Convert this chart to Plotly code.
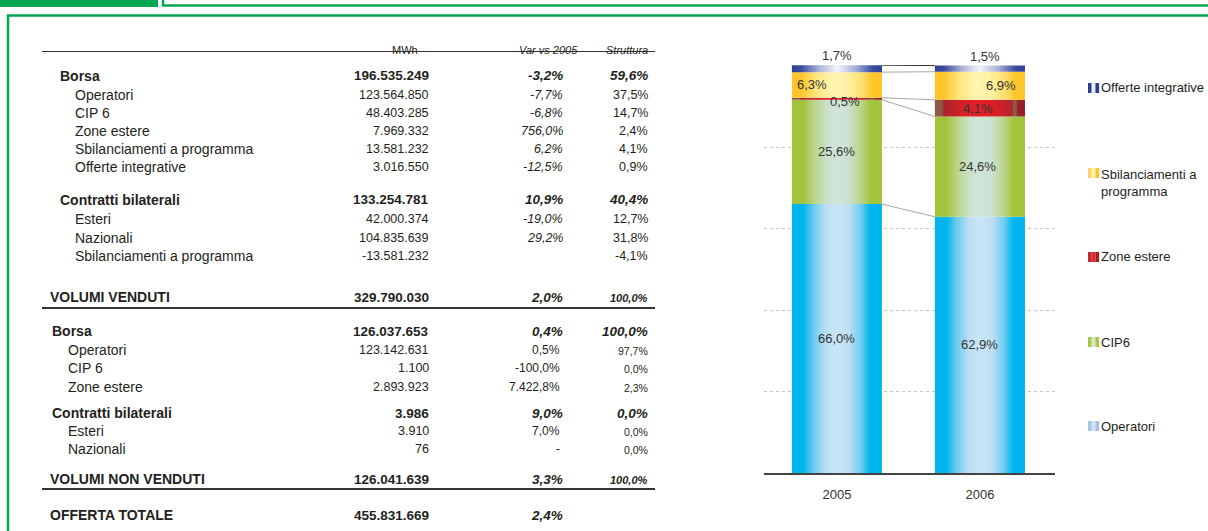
import plotly.graph_objects as go

W, H = 1208, 531

# ---- chart data (shares of sold volumes, %)
years = ["2005", "2006"]
series = ["Operatori", "CIP6", "Zone estere", "Sbilanciamenti a programma", "Offerte integrative"]
share_2005 = [66.0, 25.6, 0.5, 6.3, 1.7]
share_2006 = [62.9, 24.6, 4.1, 6.9, 1.5]

# ---- table data
header = ["MWh", "Var vs 2005", "Struttura"]
row_labels = ["Borsa", "Operatori", "CIP 6", "Zone estere", "Sbilanciamenti a programma",
              "Offerte integrative", "Contratti bilaterali", "Esteri", "Nazionali",
              "Sbilanciamenti a programma", "VOLUMI VENDUTI", "Borsa", "Operatori", "CIP 6",
              "Zone estere", "Contratti bilaterali", "Esteri", "Nazionali",
              "VOLUMI NON VENDUTI", "OFFERTA TOTALE"]
row_mwh = ["196.535.249", "123.564.850", "48.403.285", "7.969.332", "13.581.232", "3.016.550",
           "133.254.781", "42.000.374", "104.835.639", "-13.581.232", "329.790.030",
           "126.037.653", "123.142.631", "1.100", "2.893.923", "3.986", "3.910", "76",
           "126.041.639", "455.831.669"]
row_var = ["-3,2%", "-7,7%", "-6,8%", "756,0%", "6,2%", "-12,5%", "10,9%", "-19,0%", "29,2%", "",
           "2,0%", "0,4%", "0,5%", "-100,0%", "7.422,8%", "9,0%", "7,0%", "-", "3,3%", "2,4%"]
row_struttura = ["59,6%", "37,5%", "14,7%", "2,4%", "4,1%", "0,9%", "40,4%", "12,7%", "31,8%",
                 "-4,1%", "100,0%", "100,0%", "97,7%", "0,0%", "2,3%", "0,0%", "0,0%", "0,0%",
                 "100,0%", ""]

# ---- table layout / style (kept apart from the values)
row_kind = ["group", "item", "item", "item", "item", "item", "group", "item", "item", "item",
            "total", "group2", "item2", "item2", "item2", "group2", "item2", "item2",
            "total", "total"]
row_y = [76, 95, 113, 131, 149, 167, 200, 219, 238, 256, 297, 331, 350, 368, 387, 413, 431, 449,
         479, 515]

FONT = "Liberation Sans, Arial, sans-serif"
GREEN = "#00a651"
INK = "#231f20"


def px(x):
    return x / W


def py(y):
    return 1 - y / H


fig = go.Figure()

######
# stacked bars, drawn as gradient-filled polygons
######
gradients = {
    "Operatori": [[0, "#00b5ee"], [0.13, "#00b5ee"], [0.24, "#6ccbf1"], [0.38, "#bcdff3"],
                  [0.5, "#c9e5f5"], [0.64, "#bcdff3"], [0.77, "#6ccbf1"], [0.87, "#00b5ee"],
                  [1, "#00b5ee"]],
    "CIP6": [[0, "#a3c33b"], [0.12, "#a3c33b"], [0.26, "#bcd68e"], [0.4, "#cbe2d2"],
             [0.5, "#cfe4d8"], [0.62, "#cbe2d2"], [0.76, "#bcd68e"], [0.88, "#a3c33b"],
             [1, "#a3c33b"]],
    "Zone estere": [[0, "#8e5846"], [0.08, "#8e5846"], [0.1, "#a8252b"], [0.3, "#d42026"],
                    [0.5, "#e52025"], [0.7, "#d42026"], [0.86, "#b0262b"], [0.87, "#8e5846"],
                    [0.9, "#8e5846"], [0.92, "#9c2127"], [1, "#8f1f25"]],
    "Sbilanciamenti a programma": [[0, "#fdc52a"], [0.1, "#fdc52a"], [0.28, "#fee784"],
                                   [0.45, "#fff5b0"], [0.6, "#fff2a6"], [0.78, "#fedf70"],
                                   [0.9, "#fdc52a"], [1, "#fdc52a"]],
    "Offerte integrative": [[0, "#2e3f96"], [0.1, "#3a4b9d"], [0.3, "#a9b2d8"], [0.5, "#f3f3f9"],
                            [0.7, "#a9b2d8"], [0.9, "#3a4b9d"], [1, "#2e3f96"]],
}

bar_w = 0.63
shares = [share_2005, share_2006]
tops = []
for xi, sh in enumerate(shares):
    cum = []
    base = 0.0
    for si, name in enumerate(series):
        top = base + sh[si]
        x0, x1 = xi - bar_w / 2, xi + bar_w / 2
        fig.add_trace(go.Scatter(
            x=[x0, x1, x1, x0, x0], y=[base, base, top, top, base],
            mode="lines", fill="toself", line=dict(width=0),
            fillgradient=dict(type="horizontal", colorscale=gradients[name]),
            showlegend=False, hoverinfo="skip"))
        cum.append((base, top))
        base = top
    tops.append(cum)

# series lines between the two bars
for si in range(len(series)):
    fig.add_trace(go.Scatter(
        x=[bar_w / 2, 1 - bar_w / 2], y=[tops[0][si][1], tops[1][si][1]],
        mode="lines", line=dict(color="#333333" if si == len(series) - 1 else "#a6a6a6", width=1),
        showlegend=False, hoverinfo="skip"))

# data labels
label_dx = [[0, 0, 8, -25, 0], [0, -2, -2, 21, 5]]
label_dy = [[0, 0, -3, 0, 0], [0, 0, 0, 0, 0]]
for xi, sh in enumerate(shares):
    for si, v in enumerate(sh):
        base, top = tops[xi][si]
        txt = f"{v:.1f}".replace(".", ",") + "%"
        above = si == len(series) - 1
        fig.add_annotation(
            x=xi, y=top if above else (base + top) / 2, xref="x", yref="y",
            text=txt, showarrow=False,
            yanchor="bottom" if above else "middle",
            xshift=label_dx[xi][si], yshift=(0 if above else label_dy[xi][si]),
            font=dict(family=FONT, size=13, color="#333333"))

fig.update_xaxes(domain=[px(764), px(1055)], range=[-0.51, 1.525],
                 tickvals=[0, 1], ticktext=years, showgrid=False, zeroline=False,
                 showline=True, linecolor="#444444", linewidth=1.5,
                 ticks="", ticklabelstandoff=9,
                 tickfont=dict(family=FONT, size=13, color="#333333"))
fig.update_yaxes(domain=[py(473), py(65)], range=[0, 100.15], tickvals=[20, 40, 60, 80, 100],
                 showticklabels=False, showgrid=True, gridcolor="#c4c4c4",
                 griddash="dot", gridwidth=1, zeroline=False)

######
# legend (spread out vertically, as in the reference)
######
legend_order = ["Offerte integrative", "Sbilanciamenti a programma", "Zone estere", "CIP6", "Operatori"]
legend_text = ["Offerte integrative", "Sbilanciamenti a<br>programma", "Zone estere", "CIP6", "Operatori"]
legend_y = [88, 173, 257, 342, 426]
legend_swatch = {
    "Offerte integrative": ["#2b3d91", "#e9ecf7", "#2b3d91"],
    "Sbilanciamenti a programma": ["#fdd36a", "#fff2a8", "#fcc230"],
    "Zone estere": ["#c0272d", "#e8262b", "#a01f25"],
    "CIP6": ["#a8c84a", "#d6e8c8", "#a8c84a"],
    "Operatori": ["#a3c4ea", "#d2e2f4", "#a3c4ea"],
}
shapes = []
for name, txt, ly in zip(legend_order, legend_text, legend_y):
    cols = legend_swatch[name]
    for k, c in enumerate(cols):
        shapes.append(dict(type="rect", xref="paper", yref="paper", layer="above",
                           x0=px(1088 + k * 3.7), x1=px(1088 + (k + 1) * 3.7),
                           y0=py(ly + 5), y1=py(ly - 5), fillcolor=c, line=dict(width=0)))
    fig.add_annotation(x=px(1099), y=py(ly), xref="paper", yref="paper",
                       xanchor="left", yanchor="top" if "<br>" in txt else "middle",
                       yshift=8 if "<br>" in txt else 0,
                       text=txt, showarrow=False, align="left",
                       font=dict(family=FONT, size=13, color=INK))

######
# table on the left
######
col_mwh, col_var, col_str = 431, 565, 650
fig.add_annotation(x=px(390), y=py(42), xref="paper", yref="paper", text=header[0],
                   showarrow=False, font=dict(family=FONT, size=11, color=INK))
fig.add_annotation(x=px(548), y=py(42), xref="paper", yref="paper", text="<i>" + header[1] + "</i>",
                   showarrow=False, font=dict(family=FONT, size=11, color=INK))
fig.add_annotation(x=px(627), y=py(42), xref="paper", yref="paper", text="<i>" + header[2] + "</i>",
                   showarrow=False, font=dict(family=FONT, size=11, color=INK))

label_x = {"group": 58, "item": 73, "total": 48, "group2": 50, "item2": 66}


def cell(x, y, text, size, anchor="right"):
    if text == "":
        return
    fig.add_annotation(x=px(x), y=py(y), xref="paper", yref="paper", text=text,
                       xanchor=anchor, yanchor="middle", showarrow=False,
                       font=dict(family=FONT, size=size, color=INK))


for lab, mwh, var, st, kind, y in zip(row_labels, row_mwh, row_var, row_struttura, row_kind, row_y):
    bold = kind in ("group", "group2", "total")
    cell(label_x[kind], y, f"<b>{lab}</b>" if bold else lab, 14, "left")
    cell(col_mwh, y, f"<b>{mwh}</b>" if bold else mwh, 13.5 if bold else 12.5)
    if bold:
        cell(col_var, y, f"<b><i>{var}</i></b>", 13.5)
    elif kind == "item":
        cell(col_var, y, f"<i>{var}</i>", 12.5)
    else:
        cell(col_var - 3, y, var, 12)
    if kind == "total":
        cell(col_str, y + 1, f"<b><i>{st}</i></b>", 11)
    elif bold:
        cell(col_str, y, f"<b><i>{st}</i></b>", 13.5)
    elif kind == "item":
        cell(col_str, y, st, 12.5)
    else:
        cell(col_str, y + 1, st, 10.5)

# table rules
for ly, lw in [(51.5, 1.2), (308, 2), (489, 2)]:
    shapes.append(dict(type="line", xref="paper", yref="paper", x0=px(42), x1=px(655),
                       y0=py(ly), y1=py(ly), line=dict(color="#333333", width=lw)))

# page frame decorations
shapes += [
    dict(type="rect", xref="paper", yref="paper", x0=px(0), x1=px(158), y0=py(0), y1=py(7),
         fillcolor=GREEN, line=dict(width=0)),
    dict(type="rect", xref="paper", yref="paper", x0=px(163), x1=px(1215), y0=py(-5), y1=py(5.5),
         line=dict(color=GREEN, width=2.5)),
    dict(type="rect", xref="paper", yref="paper", x0=px(8), x1=px(1215), y0=py(15.5), y1=py(545),
         line=dict(color=GREEN, width=2.5)),
]

fig.update_layout(width=W, height=H, margin=dict(l=0, r=0, t=0, b=0),
                  paper_bgcolor="white", plot_bgcolor="white", showlegend=False,
                  shapes=shapes, font=dict(family=FONT))

# the page's default body margin would push the figure 8px down and right
fig.write_html("out.html", config={"displayModeBar": False},
               post_script="document.body.style.margin='0';")
